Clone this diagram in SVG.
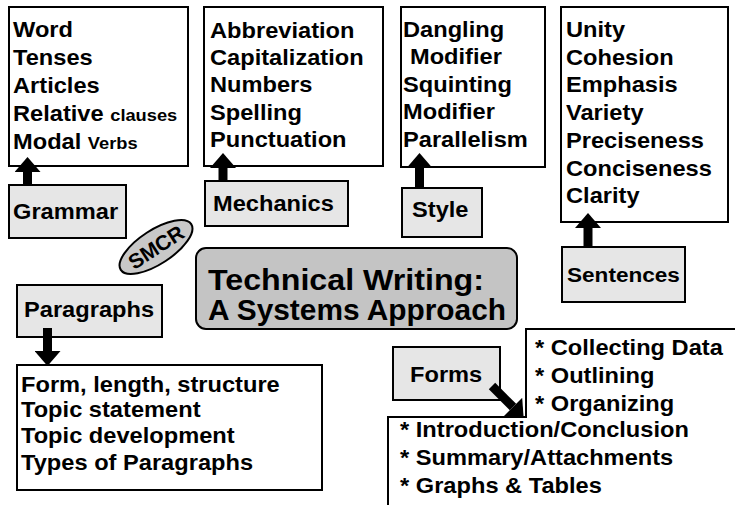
<svg xmlns="http://www.w3.org/2000/svg" width="735" height="505" viewBox="0 0 735 505">
<defs>
<marker id="head" markerUnits="userSpaceOnUse" markerWidth="15" markerHeight="26" refX="0" refY="13" orient="auto"><path d="M0,0 L15,13 L0,26 Z" fill="#000"/></marker>
</defs>
<style>
.list{fill:#fff;stroke:#000;stroke-width:2}
.lab{fill:#e6e6e6;stroke:#000;stroke-width:2}
text{font-family:"Liberation Sans",Arial,Helvetica,sans-serif;font-weight:bold;fill:#000;font-size:22px}
.sm{font-size:17px}
.arr{stroke:#000;stroke-width:9;fill:none;marker-end:url(#head)}
</style>
<rect x="0" y="0" width="735" height="505" fill="#fff"/>

<g id="grammar-list">
<rect class="list" x="9" y="7" width="179" height="159"/>
<g transform="translate(13 0) scale(1.075 1)">
<text x="0" y="37">Word</text>
<text x="0" y="65">Tenses</text>
<text x="0" y="93">Articles</text>
<text x="0" y="121">Relative <tspan class="sm">clauses</tspan></text>
<text x="0" y="149">Modal <tspan class="sm">Verbs</tspan></text>
</g>
</g>

<g id="mechanics-list">
<rect class="list" x="204" y="7" width="179" height="159"/>
<g transform="translate(210 0) scale(1.075 1)">
<text x="0" y="38">Abbreviation</text>
<text x="0" y="65">Capitalization</text>
<text x="0" y="92">Numbers</text>
<text x="0" y="120">Spelling</text>
<text x="0" y="147">Punctuation</text>
</g>
</g>

<g id="style-list">
<rect class="list" x="401" y="7" width="144" height="160"/>
<g transform="translate(403 0) scale(1.075 1)">
<text x="0" y="37">Dangling</text>
<text x="6.5" y="64">Modifier</text>
<text x="0" y="92">Squinting</text>
<text x="0" y="119">Modifier</text>
<text x="0" y="147">Parallelism</text>
</g>
</g>

<g id="sentences-list">
<rect class="list" x="561" y="7" width="167" height="215"/>
<g transform="translate(566 0) scale(1.075 1)">
<text x="0" y="37">Unity</text>
<text x="0" y="65">Cohesion</text>
<text x="0" y="92">Emphasis</text>
<text x="0" y="120">Variety</text>
<text x="0" y="148">Preciseness</text>
<text x="0" y="176">Conciseness</text>
<text x="0" y="203">Clarity</text>
</g>
</g>

<g id="grammar">
<rect class="lab" x="9" y="185" width="117" height="53"/>
<text transform="translate(13 219) scale(1.075 1)">Grammar</text>
</g>

<g id="mechanics">
<rect class="lab" x="205" y="181" width="143" height="45"/>
<text transform="translate(213 211) scale(1.075 1)">Mechanics</text>
</g>

<g id="style">
<rect class="lab" x="402" y="188" width="80" height="49"/>
<text transform="translate(412 217) scale(1.075 1)">Style</text>
</g>

<g id="sentences">
<rect class="lab" x="562" y="247" width="123" height="55"/>
<text transform="translate(567 282) scale(1.075 1)" style="font-size:21px">Sentences</text>
</g>

<g id="smcr" transform="translate(156 247) rotate(-33)">
<ellipse cx="0" cy="0" rx="42" ry="17" fill="#c8c8c8" stroke="#000" stroke-width="2"/>
<text x="0" y="7.5" text-anchor="middle" style="font-size:21px">SMCR</text>
</g>

<g id="title">
<rect x="196" y="248" width="321" height="81" rx="10" ry="10" fill="#c4c4c4" stroke="#000" stroke-width="2"/>
<text x="208" y="290" style="font-size:29px" textLength="276" lengthAdjust="spacingAndGlyphs">Technical Writing:</text>
<text x="208" y="320" style="font-size:29px" textLength="298" lengthAdjust="spacingAndGlyphs">A Systems Approach</text>
</g>

<g id="paragraphs">
<rect class="lab" x="17" y="285" width="145" height="52"/>
<text transform="translate(24 317) scale(1.075 1)">Paragraphs</text>
</g>

<g id="paragraphs-list">
<rect class="list" x="17" y="365" width="305" height="125"/>
<g transform="translate(21 0) scale(1.075 1)">
<text x="0" y="392">Form, length, structure</text>
<text x="0" y="417.5">Topic statement</text>
<text x="0" y="443.5">Topic development</text>
<text x="0" y="470">Types of Paragraphs</text>
</g>
</g>

<g id="forms">
<rect class="lab" x="393" y="347" width="107" height="53"/>
<text transform="translate(410 382) scale(1.075 1)">Forms</text>
</g>

<g id="forms-list">
<path class="list" d="M388,507 V417 H526 V329 H737 V507 Z"/>
<g transform="translate(535 0) scale(1.075 1)">
<text x="0" y="355">* Collecting Data</text>
<text x="0" y="383">* Outlining</text>
<text x="0" y="411">* Organizing</text>
</g>
<g transform="translate(400 0) scale(1.075 1)">
<text x="0" y="437">* Introduction/Conclusion</text>
<text x="0" y="465">* Summary/Attachments</text>
<text x="0" y="493">* Graphs &amp; Tables</text>
</g>
</g>

<g id="connectors">
<line class="arr" x1="27.5" y1="185" x2="27.5" y2="172"/>
<line class="arr" x1="223" y1="181" x2="223" y2="168"/>
<line class="arr" x1="419.5" y1="188" x2="419.5" y2="168"/>
<line class="arr" x1="588" y1="247" x2="588" y2="228"/>
<line class="arr" x1="47.5" y1="328" x2="47.5" y2="351"/>
<line class="arr" x1="492" y1="386" x2="513" y2="407"/>
</g>
</svg>
